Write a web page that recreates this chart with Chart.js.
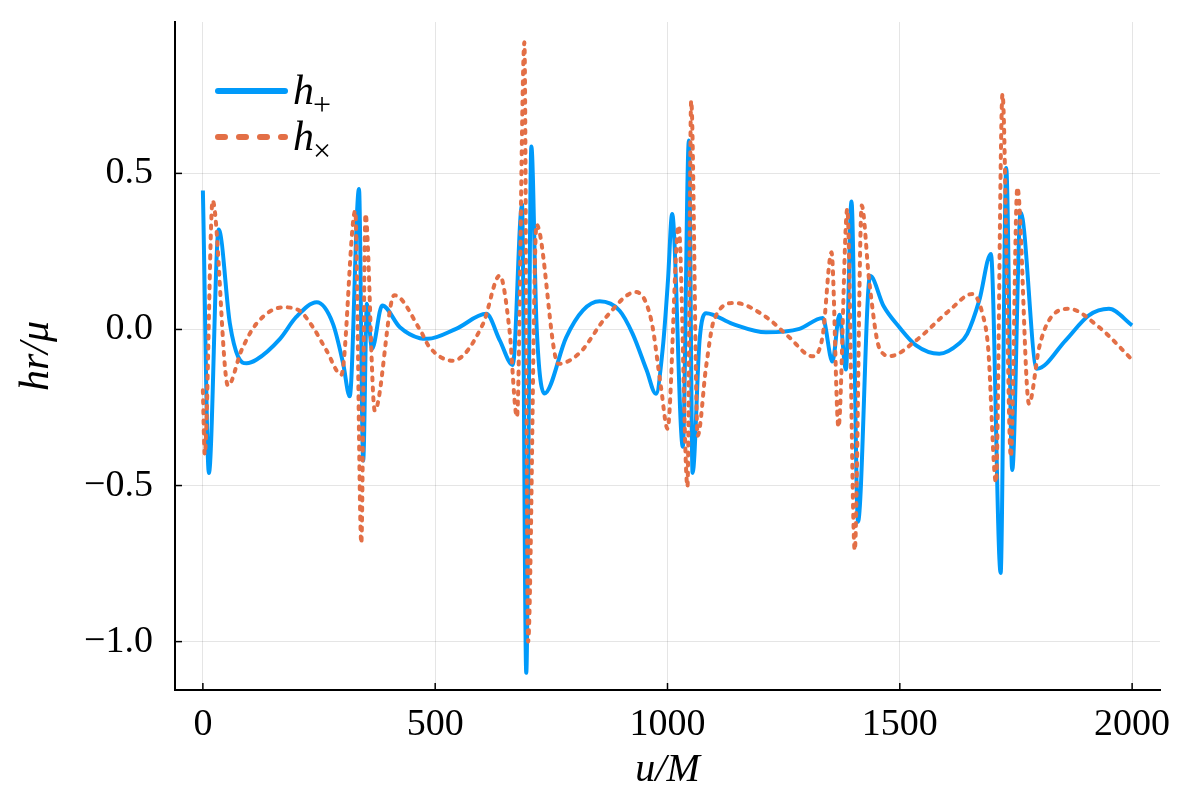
<!DOCTYPE html>
<html><head><meta charset="utf-8">
<script src="https://cdn.jsdelivr.net/npm/chart.js@4.4.0/dist/chart.umd.min.js"></script>
<style>html,body{margin:0;padding:0;background:#fff}#wrap{width:1200px;height:800px}</style>
</head><body><div id="wrap"><canvas id="c" width="1200" height="800"></canvas></div>
<script>
// h_+ series (u/M, hr/mu)
const uPlus = [0, 13, 34, 58, 76, 94, 115, 166, 201, 245, 280, 302, 316, 336, 345, 353, 364, 386, 424, 467, 484, 545, 610, 639, 667, 687, 696, 707, 718, 735, 782, 818, 854, 897, 925, 955, 975, 990, 1001, 1010, 1033, 1046, 1054, 1069, 1083, 1140, 1212, 1284, 1334, 1355, 1370, 1384, 1396, 1410, 1436, 1465, 1499, 1535, 1585, 1627, 1645, 1671, 1696, 1717, 1729, 1742, 1760, 1795, 1857, 1907, 1950, 2000];
const hPlus = [0.445, -0.46, 0.32, 0.02, -0.088, -0.108, -0.097, -0.03, 0.04, 0.087, 0.018, -0.11, -0.214, 0.45, -0.42, 0.082, -0.062, 0.077, 0.007, -0.028, -0.03, 0.002, 0.05, -0.035, -0.114, 0.40, -1.10, 0.586, 0.02, -0.205, -0.025, 0.061, 0.09, 0.06, -0.014, -0.13, -0.206, -0.057, 0.157, 0.37, -0.376, 0.605, -0.46, -0.035, 0.052, 0.018, -0.009, 0.002, 0.037, -0.103, 0.047, -0.128, 0.41, -0.616, 0.172, 0.075, 0.007, -0.051, -0.078, -0.046, -0.014, 0.093, 0.242, -0.78, 0.517, -0.45, 0.375, -0.126, -0.035, 0.045, 0.066, 0.013];
// h_x series (u/M, hr/mu)
const uCross = [0, 4, 21, 54, 83, 115, 173, 208, 237, 266, 298, 328, 341, 350, 370, 412, 467, 488, 538, 603, 639, 660, 676, 692, 700, 718, 765, 811, 868, 932, 965, 986, 1000, 1024, 1043, 1051, 1065, 1083, 1100, 1145, 1212, 1262, 1312, 1334, 1353, 1368, 1387, 1403, 1418, 1434, 1456, 1480, 1535, 1606, 1656, 1678, 1690, 1707, 1721, 1739, 1753, 1778, 1800, 1821, 1864, 1929, 2000];
const hCross = [-0.195, -0.40, 0.413, -0.18, -0.067, 0.018, 0.071, 0.06, 0.007, -0.067, -0.145, 0.38, -0.685, 0.37, -0.26, 0.11, 0.0, -0.057, -0.1, 0.018, 0.173, -0.003, -0.28, 0.92, -1.0, 0.336, -0.11, -0.075, 0.04, 0.12, 0.03, -0.185, -0.318, 0.333, -0.504, 0.733, -0.34, -0.12, 0.03, 0.085, 0.04, -0.025, -0.086, -0.02, 0.247, -0.313, 0.386, -0.707, 0.397, 0.157, -0.06, -0.085, -0.035, 0.06, 0.114, 0.05, -0.057, -0.49, 0.754, -0.408, 0.455, -0.238, -0.057, 0.029, 0.066, 0.007, -0.097];
const xTicks = [0, 500, 1000, 1500, 2000];
const yTicks = [-1.0, -0.5, 0.0, 0.5];
const xTitle = 'u/M';
const yTitle = 'hr/\u03BC';

const BLUE = 'rgb(0,154,250)';
const ORANGE = 'rgb(227,111,70)';
const SERIF = '"Liberation Serif", "DejaVu Serif", serif';

const legendPlugin = {
  id: 'mathLegend',
  afterDraw(chart) {
    const ctx = chart.ctx;
    const entries = [
      {ds: chart.data.datasets[0], y: 91, sub: '+'},
      {ds: chart.data.datasets[1], y: 137, sub: '\u00D7'}
    ];
    ctx.save();
    entries.forEach(e => {
      ctx.beginPath();
      ctx.strokeStyle = e.ds.borderColor;
      ctx.lineWidth = 6;
      ctx.lineCap = 'round';
      ctx.setLineDash(e.ds.borderDash && e.ds.borderDash.length ? [7, 14] : []);
      ctx.moveTo(218, e.y);
      ctx.lineTo(285, e.y);
      ctx.stroke();
      ctx.setLineDash([]);
      ctx.fillStyle = '#000';
      ctx.textBaseline = 'alphabetic';
      ctx.textAlign = 'left';
      ctx.font = 'italic 42px ' + SERIF;
      ctx.fillText('h', 293, e.y + 13);
      ctx.font = '32px ' + SERIF;
      ctx.fillText(e.sub, 313, e.y + 24);
    });
    ctx.restore();
  }
};

const tickPlugin = {
  id: 'inTicks',
  afterDatasetsDraw(chart) {
    const {ctx, chartArea: a, scales: {x, y}} = chart;
    ctx.save();
    ctx.strokeStyle = '#000';
    ctx.lineWidth = 1.5;
    xTicks.forEach(v => {
      const p = x.getPixelForValue(v);
      ctx.beginPath(); ctx.moveTo(p, a.bottom); ctx.lineTo(p, a.bottom - 7); ctx.stroke();
    });
    yTicks.forEach(v => {
      const p = y.getPixelForValue(v);
      ctx.beginPath(); ctx.moveTo(a.left, p); ctx.lineTo(a.left + 7, p); ctx.stroke();
    });
    ctx.restore();
  }
};

new Chart(document.getElementById('c'), {
  type: 'line',
  data: {
    datasets: [
      {
        label: 'h+',
        data: uPlus.map((u, i) => ({x: u, y: hPlus[i]})),
        borderColor: BLUE,
        borderWidth: 4,
        pointRadius: 0,
        cubicInterpolationMode: 'monotone',
        fill: false,
        order: 2
      },
      {
        label: 'h\u00D7',
        data: uCross.map((u, i) => ({x: u, y: hCross[i]})),
        borderColor: ORANGE,
        borderWidth: 4,
        borderDash: [3, 7],
        borderCapStyle: 'round',
        pointRadius: 0,
        cubicInterpolationMode: 'monotone',
        fill: false,
        order: 1
      }
    ]
  },
  options: {
    responsive: false,
    animation: false,
    devicePixelRatio: 1,
    layout: {padding: {left: 0, top: 22, right: 40, bottom: 0}},
    plugins: {legend: {display: false}, tooltip: {enabled: false}},
    scales: {
      x: {
        type: 'linear',
        min: -60, max: 2060,
        afterBuildTicks: s => { s.ticks = xTicks.map(v => ({value: v})); },
        afterFit: s => { s.height = 110; s.paddingLeft = 0; s.paddingRight = 0; },
        grid: {color: 'rgba(0,0,0,0.1)', lineWidth: 1, drawTicks: false},
        border: {display: true, color: '#000', width: 2},
        ticks: {
          color: '#000', padding: 12, maxRotation: 0,
          font: {family: SERIF, size: 38},
          callback: v => String(v)
        },
        title: {display: true, text: xTitle, color: '#000', font: {family: SERIF, size: 40, style: 'italic'}, padding: {top: 0, bottom: 6}}
      },
      y: {
        type: 'linear',
        min: -1.155, max: 0.985,
        afterBuildTicks: s => { s.ticks = yTicks.map(v => ({value: v})); },
        afterFit: s => { s.width = 175; s.paddingTop = 0; s.paddingBottom = 0; },
        grid: {color: 'rgba(0,0,0,0.1)', lineWidth: 1, drawTicks: false},
        border: {display: true, color: '#000', width: 2},
        ticks: {
          color: '#000', padding: 22,
          font: {family: SERIF, size: 38},
          callback: v => (v < 0 ? '\u2212' : '') + Math.abs(v).toFixed(1)
        },
        title: {display: true, text: yTitle, color: '#000', font: {family: SERIF, size: 42, style: 'italic'}, padding: {top: 12, bottom: 0}}
      }
    }
  },
  plugins: [legendPlugin, tickPlugin]
});
</script>
</body></html>
